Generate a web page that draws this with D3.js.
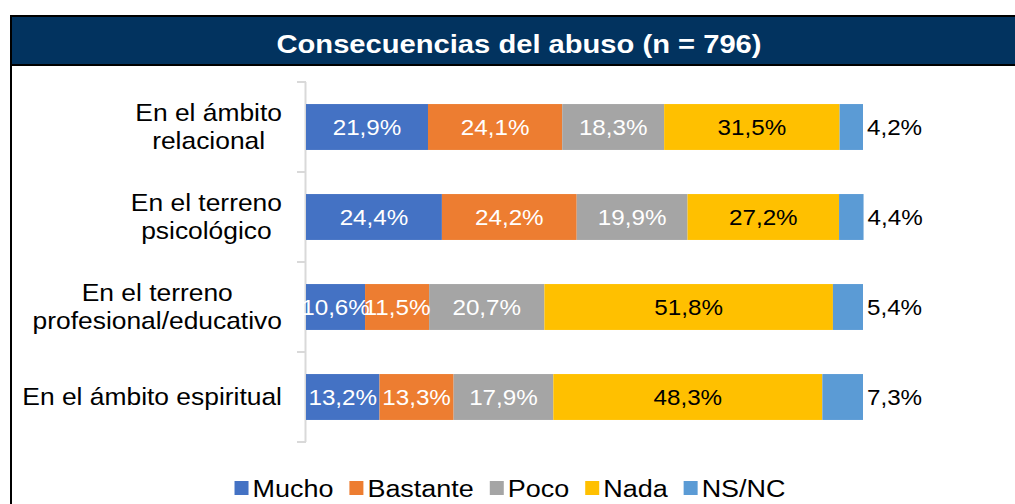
<!DOCTYPE html>
<html>
<head>
<meta charset="utf-8">
<script src="https://cdn.jsdelivr.net/npm/d3@7"></script>
<style>
  body { margin: 0; background: #fff; }
  text { font-family: "Liberation Sans", Arial, sans-serif; }
</style>
</head>
<body>
<div id="chart"></div>
<script>

// data
const categories = [
    "En el ámbito\nrelacional",
    "En el terreno\npsicológico",
    "En el terreno\nprofesional/educativo",
    "En el ámbito espiritual"
];
const seriesNames = ["Mucho", "Bastante", "Poco", "Nada", "NS/NC"];
const mucho    = [21.9, 24.4, 10.6, 13.2];
const bastante = [24.1, 24.2, 11.5, 13.3];
const poco     = [18.3, 19.9, 20.7, 17.9];
const nada     = [31.5, 27.2, 51.8, 48.3];
const nsnc     = [4.2, 4.4, 5.4, 7.3];
const colors = ["#4472C4", "#ED7D31", "#A5A5A5", "#FFC000", "#5B9BD5"];
const title = "Consecuencias del abuso (n = 796)";

const width = 1015;
const height = 504;
const stretch = 1.1;   // the original picture is a bit wider than tall

const svg = d3.select("#chart")
    .append("svg")
    .attr("width", width)
    .attr("height", height);

// frame + title bar
svg.append("rect")
    .attr("x", 11).attr("y", 16)
    .attr("width", 1020).attr("height", 500)
    .attr("fill", "none")
    .attr("stroke", "#000")
    .attr("stroke-width", 2);

svg.append("rect")
    .attr("x", 11).attr("y", 16)
    .attr("width", 1020).attr("height", 49)
    .attr("fill", "#02335F")
    .attr("stroke", "#000")
    .attr("stroke-width", 2);

svg.append("text")
    .attr("transform", `translate(519,53) scale(${stretch},1)`)
    .attr("text-anchor", "middle")
    .attr("fill", "#fff")
    .attr("font-weight", "bold")
    .attr("font-size", "26.5px")
    .text(title);

// scales
const rows = categories.map(function(c, i) {
    return { cat: c, values: [mucho[i], bastante[i], poco[i], nada[i], nsnc[i]] };
});

const yScale = d3.scaleBand()
    .domain(categories)
    .range([82, 442])
    .paddingInner(0.49)
    .paddingOuter(0.245);

const xScale = d3.scaleLinear()
    .domain([0, 100])
    .range([306, 863]);

// axis (ticks between categories, like Excel)
const axisColor = "#D9D9D9";
const step = yScale.step();
svg.append("line")
    .attr("x1", xScale(0) - 0.5).attr("x2", xScale(0) - 0.5)
    .attr("y1", yScale.range()[0]).attr("y2", yScale.range()[1])
    .attr("stroke", axisColor).attr("stroke-width", 2);

svg.selectAll(".tick")
    .data(d3.range(categories.length + 1))
    .enter()
    .append("line")
        .attr("class", "tick")
        .attr("x1", xScale(0) - 9).attr("x2", xScale(0))
        .attr("y1", function(i) { return yScale.range()[0] + i * step; })
        .attr("y2", function(i) { return yScale.range()[0] + i * step; })
        .attr("stroke", axisColor).attr("stroke-width", 2);

// stacked bars
const stacked = rows.map(function(r) {
    let acc = 0;
    return r.values.map(function(v, j) {
        const seg = { cat: r.cat, x0: acc, x1: acc + v, v: v, j: j };
        acc += v;
        return seg;
    });
});
const segments = stacked.flat();

svg.selectAll(".bar")
    .data(segments)
    .enter()
    .append("rect")
        .attr("class", "bar")
        .attr("x", function(d) { return xScale(d.x0); })
        .attr("y", function(d) { return yScale(d.cat); })
        .attr("width", function(d) { return xScale(d.x1) - xScale(d.x0); })
        .attr("height", yScale.bandwidth())
        .attr("fill", function(d) { return colors[d.j]; });

// value labels
const fmt = function(v) { return v.toFixed(1).replace(".", ",") + "%"; };

svg.selectAll(".val")
    .data(segments)
    .enter()
    .append("text")
        .attr("class", "val")
        .attr("transform", function(d) {
            const cy = yScale(d.cat) + yScale.bandwidth() / 2 + 8;
            const cx = d.j === 4 ? xScale(d.x1) + 4 : (xScale(d.x0) + xScale(d.x1)) / 2;
            return `translate(${cx},${cy}) scale(${stretch},1)`;
        })
        .attr("text-anchor", function(d) { return d.j === 4 ? "start" : "middle"; })
        .attr("font-size", "22px")
        .attr("fill", function(d) { return d.j < 3 ? "#fff" : "#000"; })
        .text(function(d) { return fmt(d.v); });

// category labels (centred block, right edge near the axis)
const catRight = 282;
categories.forEach(function(c) {
    const lines = c.split("\n");
    const g = svg.append("g");
    const texts = lines.map(function(line, i) {
        const cy = yScale(c) + yScale.bandwidth() / 2 + 8 + (i - (lines.length - 1) / 2) * 28;
        return g.append("text")
            .attr("font-size", "24px")
            .attr("fill", "#000")
            .attr("text-anchor", "middle")
            .attr("data-y", cy)
            .text(line);
    });
    const maxW = d3.max(texts, function(t) { return t.node().getComputedTextLength(); }) * stretch;
    const cx = catRight - maxW / 2;
    texts.forEach(function(t) {
        t.attr("transform", `translate(${cx},${t.attr("data-y")}) scale(${stretch},1)`);
    });
});

// legend
const legend = svg.append("g");
let lx = 0;
seriesNames.forEach(function(name, i) {
    legend.append("rect")
        .attr("x", lx).attr("y", 481)
        .attr("width", 14).attr("height", 14)
        .attr("fill", colors[i]);
    const t = legend.append("text")
        .attr("transform", `translate(${lx + 18},497) scale(${stretch},1)`)
        .attr("font-size", "24.5px")
        .attr("fill", "#000")
        .text(name);
    lx += 18 + t.node().getComputedTextLength() * stretch + 16;
});
const legendW = lx - 16;
legend.attr("transform", `translate(${510 - legendW / 2},0)`);

</script>
</body>
</html>
